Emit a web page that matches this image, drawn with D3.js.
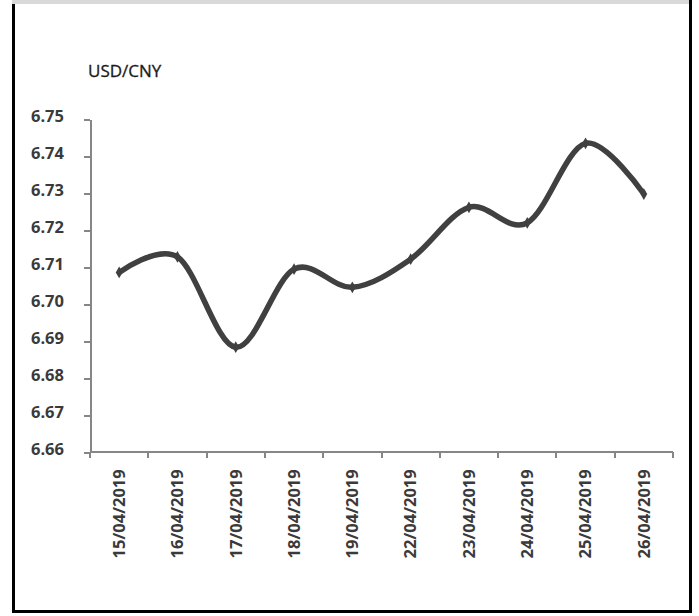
<!DOCTYPE html>
<meta charset="utf-8">
<style>
body { margin: 0; background: #fff; }
.axis path, .axis line { stroke: #868686; stroke-width: 2px; shape-rendering: crispEdges; }
.axis text { font: bold 16.5px "Open Sans", sans-serif; fill: #3a3a3a; }
.title { font: 17px "Open Sans", sans-serif; fill: #1a1a1a; stroke: #1a1a1a; stroke-width: 0.3px; }
</style>
<body>
<script src="https://d3js.org/d3.v7.min.js"></script>
<div id="draw"></div>
<script>

var dates = ["15/04/2019", "16/04/2019", "17/04/2019", "18/04/2019", "19/04/2019",
             "22/04/2019", "23/04/2019", "24/04/2019", "25/04/2019", "26/04/2019"];
var rates = [6.7086, 6.7128, 6.6884, 6.7095, 6.7046, 6.7122, 6.7262, 6.7220, 6.7435, 6.7298];
var yTicks = [6.66, 6.67, 6.68, 6.69, 6.70, 6.71, 6.72, 6.73, 6.74, 6.75];

var W = 699, H = 616;
var plotL = 90, plotR = 673, plotT = 119.3, plotB = 452.3;

var svg = d3.select("#draw").append("svg")
    .attr("width", W)
    .attr("height", H);

// frame
svg.append("rect").attr("x", 13.5).attr("y", 0).attr("width", 677).attr("height", 611.5)
    .attr("fill", "none").attr("stroke", "#000").attr("stroke-width", 3);
svg.append("rect").attr("x", 12).attr("y", 0).attr("width", 677).attr("height", 4).attr("fill", "#d9d9d9");

var x = d3.scaleBand().domain(dates).range([plotL, plotR]);
var y = d3.scaleLinear().domain([6.66, 6.75]).range([plotB, plotT]);

svg.append("text")
    .attr("class", "title")
    .attr("x", 88)
    .attr("y", 77)
    .text("USD/CNY");

// y axis
var yAxis = d3.axisLeft(y).tickValues(yTicks).tickFormat(d3.format(".2f")).tickSize(6).tickPadding(20).tickSizeOuter(0);
var gy = svg.append("g").attr("class", "axis").attr("transform", "translate(" + plotL + ",0)").call(yAxis);
gy.selectAll("text").attr("dy", "0.32em").attr("y", -3);

// x axis with ticks on category boundaries
var xAxis = d3.axisBottom(x).tickSize(0).tickPadding(0);
var gx = svg.append("g").attr("class", "axis").attr("transform", "translate(0," + plotB + ")").call(xAxis);
gx.select(".domain").attr("d", "M" + plotL + ",0H" + plotR);
gx.selectAll(".tick text")
    .attr("transform", "rotate(-90)")
    .attr("x", -17)
    .attr("y", 0)
    .attr("dy", "0.35em")
    .style("text-anchor", "end");
var bounds = dates.map(function(d) { return x(d); }).concat([plotR]);
gx.selectAll(".bnd")
    .data(bounds)
    .enter().append("line")
    .attr("class", "bnd")
    .attr("x1", function(d) { return d; })
    .attr("x2", function(d) { return d; })
    .attr("y1", 0)
    .attr("y2", 6);

// smoothed line
var pts = dates.map(function(d, i) { return [x(d) + x.bandwidth() / 2, y(rates[i])]; });
var line = d3.line().curve(d3.curveCatmullRom.alpha(0));

svg.append("path")
    .attr("d", line(pts))
    .attr("fill", "none")
    .attr("stroke", "#404040")
    .attr("stroke-width", 5.5);

svg.selectAll(".mark")
    .data(pts)
    .enter().append("path")
    .attr("class", "mark")
    .attr("transform", function(d) { return "translate(" + d[0] + "," + d[1] + ")"; })
    .attr("d", d3.symbol().type(d3.symbolDiamond).size(40))
    .attr("fill", "#404040");

</script>
